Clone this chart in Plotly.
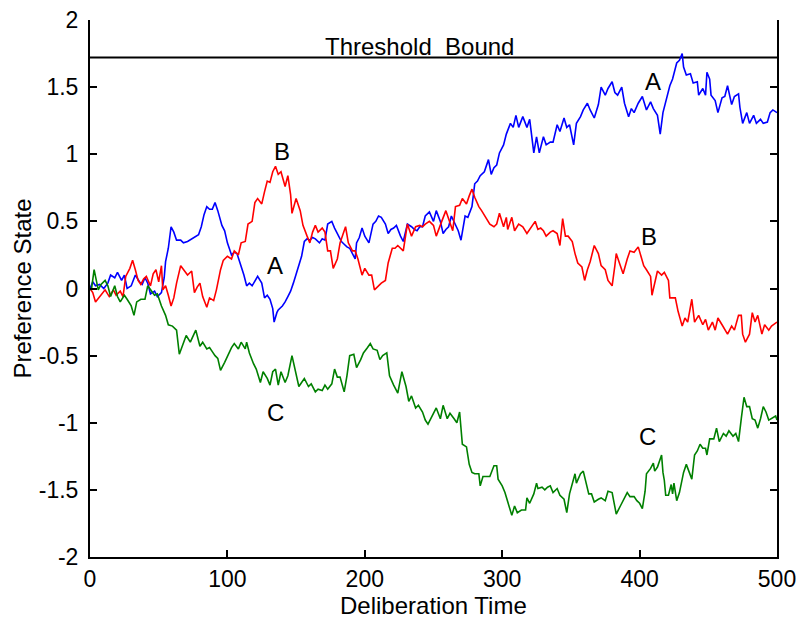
import plotly.graph_objects as go

# ---------------- data ----------------
time_a = [0,2,4,7,10,13,15,18,20,23,25,27,30,33,36,38,40,42,44,47,49,52,54,55,57,59,61,63,66,68,71,74,77,79,81,83,85,87,89,91,93,96,98,100,103,105,107,110,112,114,116,118,120,122,125,127,129,131,133,134,136,137,140,142,144,146,148,151,154,156,158,160,162,164,167,169,171,173,176,178,180,183,185,187,189,191,193,194,196,198,200,203,206,208,210,212,215,217,219,221,223,226,228,231,234,236,238,240,242,244,247,250,252,255,257,259,261,263,266,268,270,273,275,278,280,282,284,287,290,292,294,296,298,301,303,306,308,310,312,315,318,320,323,325,327,330,332,335,337,340,342,345,347,349,352,354,357,359,362,364,367,370,372,375,377,380,382,384,387,389,392,394,396,399,402,405,408,410,413,415,417,420,422,424,427,429,431,432,434,437,439,442,443,446,448,449,451,452,455,457,460,462,464,467,469,472,473,475,478,480,483,485,488,490,493,495,497,500]
pref_a = [0.0,0.05,0.02,0.03,0.0,0.04,0.1,0.08,0.12,0.06,0.1,0.0,0.02,0.1,0.05,0.03,0.08,0.04,-0.04,-0.02,-0.06,-0.03,0.08,0.2,0.3,0.46,0.42,0.36,0.36,0.34,0.35,0.37,0.39,0.4,0.46,0.55,0.61,0.59,0.59,0.64,0.58,0.47,0.43,0.34,0.25,0.27,0.26,0.17,0.1,0.02,0.04,0.02,0.06,0.09,0.04,-0.07,-0.05,-0.08,-0.15,-0.25,-0.18,-0.16,-0.13,-0.1,-0.06,-0.02,0.04,0.14,0.24,0.35,0.37,0.36,0.38,0.37,0.34,0.37,0.36,0.48,0.5,0.45,0.41,0.35,0.33,0.31,0.3,0.26,0.22,0.34,0.38,0.45,0.39,0.34,0.48,0.5,0.54,0.53,0.48,0.41,0.44,0.45,0.47,0.39,0.35,0.48,0.46,0.44,0.43,0.46,0.46,0.54,0.57,0.5,0.58,0.5,0.41,0.44,0.46,0.54,0.48,0.43,0.36,0.54,0.53,0.61,0.78,0.8,0.84,0.87,0.96,0.85,0.9,0.92,1.01,1.07,1.15,1.23,1.2,1.29,1.2,1.28,1.2,1.26,1.01,1.13,1.01,1.13,1.07,1.09,1.09,1.22,1.17,1.27,1.2,1.22,1.07,1.23,1.28,1.33,1.38,1.33,1.27,1.37,1.5,1.44,1.49,1.54,1.46,1.44,1.5,1.38,1.28,1.34,1.31,1.38,1.43,1.33,1.39,1.34,1.29,1.15,1.31,1.44,1.51,1.56,1.68,1.7,1.75,1.65,1.59,1.6,1.53,1.54,1.44,1.49,1.44,1.61,1.56,1.44,1.4,1.31,1.42,1.43,1.51,1.37,1.43,1.45,1.35,1.23,1.31,1.23,1.29,1.23,1.26,1.23,1.24,1.31,1.33,1.31]

time_b = [0,2,4,7,9,11,14,17,19,22,24,26,29,31,33,35,37,39,41,44,46,48,50,52,53,55,57,59,61,63,66,69,71,74,76,78,80,82,85,87,90,92,95,97,100,103,105,108,110,113,115,118,120,122,125,127,129,131,133,135,137,139,142,144,146,147,150,153,155,158,160,162,164,166,169,171,173,175,177,180,182,184,186,188,191,193,195,198,200,203,205,207,210,212,215,217,220,222,224,226,228,231,234,237,240,242,244,247,250,252,254,256,259,262,264,266,269,271,274,276,278,280,283,285,288,291,294,296,298,301,303,304,307,309,312,315,318,320,322,324,326,328,330,332,335,337,340,342,344,346,348,351,353,355,358,360,362,364,367,370,372,375,377,380,382,383,386,388,391,393,396,399,401,403,405,408,409,411,413,416,418,421,422,426,428,431,433,435,438,440,443,446,448,450,453,455,457,460,462,464,467,469,472,474,475,477,480,482,484,486,489,491,494,496,500]
pref_b = [0.0,-0.03,-0.1,-0.06,-0.03,-0.01,-0.06,-0.01,-0.05,-0.02,-0.06,0.09,0.15,0.21,0.14,0.06,0.03,0.07,0.09,0.02,0.11,0.14,0.05,0.17,-0.01,0.02,-0.05,-0.13,-0.07,0.04,0.17,0.13,0.1,0.13,-0.03,0.01,0.04,-0.06,-0.14,-0.07,-0.09,-0.01,0.14,0.21,0.24,0.22,0.28,0.25,0.34,0.35,0.48,0.5,0.64,0.67,0.63,0.72,0.8,0.79,0.87,0.91,0.85,0.87,0.76,0.84,0.7,0.56,0.67,0.58,0.47,0.39,0.34,0.42,0.47,0.42,0.45,0.42,0.28,0.28,0.15,0.22,0.34,0.4,0.46,0.34,0.28,0.28,0.22,0.1,0.15,0.1,0.1,-0.01,0.02,0.04,0.06,0.19,0.3,0.3,0.32,0.3,0.28,0.48,0.39,0.46,0.47,0.46,0.48,0.5,0.47,0.39,0.45,0.5,0.58,0.48,0.43,0.61,0.62,0.67,0.63,0.69,0.74,0.68,0.61,0.58,0.53,0.48,0.46,0.48,0.56,0.46,0.53,0.44,0.53,0.43,0.48,0.46,0.41,0.44,0.47,0.5,0.44,0.45,0.43,0.39,0.42,0.43,0.41,0.32,0.52,0.39,0.39,0.35,0.26,0.19,0.16,0.06,0.14,0.2,0.32,0.26,0.17,0.14,0.06,0.02,0.17,0.26,0.17,0.11,0.22,0.28,0.27,0.31,0.24,0.17,0.14,0.09,-0.05,0.04,0.13,0.1,0.12,0.06,-0.07,-0.07,-0.17,-0.28,-0.22,-0.25,-0.08,-0.25,-0.2,-0.27,-0.23,-0.31,-0.25,-0.31,-0.22,-0.27,-0.31,-0.34,-0.28,-0.31,-0.2,-0.2,-0.34,-0.4,-0.34,-0.18,-0.25,-0.2,-0.34,-0.27,-0.31,-0.28,-0.25]

time_c = [0,1,3,4,6,8,11,13,15,18,20,22,25,27,30,32,34,37,40,42,44,47,49,52,55,57,60,63,65,68,70,73,75,77,80,82,85,87,89,91,93,95,98,101,103,105,108,110,113,114,116,119,121,124,126,129,131,133,135,137,139,142,144,147,149,152,154,156,159,161,164,166,169,171,173,176,178,180,182,185,187,189,192,194,197,199,202,204,206,209,211,213,216,218,221,224,227,230,232,234,237,239,242,244,246,249,251,252,255,257,260,262,265,267,269,271,274,276,278,280,283,284,286,289,291,294,296,297,300,302,304,307,309,311,314,317,318,320,323,325,326,329,331,333,335,337,340,342,345,347,349,351,353,354,357,359,361,363,365,367,370,372,375,377,380,382,383,386,388,391,393,396,398,400,402,404,405,408,410,411,413,415,416,417,418,419,421,423,424,425,427,429,430,432,434,436,438,440,442,444,446,448,449,451,454,456,458,461,463,465,468,470,472,474,476,478,480,482,484,486,488,490,492,494,496,499,500]
pref_c = [0.0,-0.01,0.14,0.09,-0.01,0.03,0.06,0.02,-0.06,0.02,-0.06,-0.1,-0.05,-0.08,-0.13,-0.2,-0.1,-0.08,-0.08,0.02,-0.01,-0.05,-0.04,-0.13,-0.2,-0.27,-0.28,-0.31,-0.49,-0.4,-0.35,-0.4,-0.35,-0.31,-0.43,-0.4,-0.45,-0.44,-0.47,-0.5,-0.52,-0.61,-0.55,-0.48,-0.44,-0.41,-0.45,-0.4,-0.45,-0.4,-0.48,-0.56,-0.6,-0.7,-0.62,-0.67,-0.72,-0.62,-0.6,-0.72,-0.62,-0.7,-0.65,-0.5,-0.6,-0.73,-0.7,-0.67,-0.73,-0.71,-0.77,-0.75,-0.76,-0.72,-0.75,-0.71,-0.6,-0.66,-0.66,-0.77,-0.65,-0.5,-0.49,-0.59,-0.53,-0.48,-0.44,-0.41,-0.45,-0.46,-0.53,-0.5,-0.48,-0.65,-0.72,-0.78,-0.62,-0.73,-0.84,-0.8,-0.89,-0.87,-0.92,-0.98,-1.01,-0.95,-0.9,-0.89,-0.97,-0.87,-0.97,-0.93,-0.97,-1.0,-0.92,-1.16,-1.18,-1.31,-1.37,-1.38,-1.38,-1.47,-1.4,-1.4,-1.4,-1.32,-1.32,-1.42,-1.47,-1.52,-1.59,-1.69,-1.62,-1.67,-1.65,-1.65,-1.56,-1.6,-1.53,-1.45,-1.49,-1.48,-1.5,-1.48,-1.47,-1.52,-1.49,-1.54,-1.57,-1.67,-1.53,-1.45,-1.38,-1.45,-1.38,-1.36,-1.45,-1.53,-1.53,-1.59,-1.57,-1.56,-1.58,-1.51,-1.52,-1.62,-1.68,-1.62,-1.58,-1.52,-1.55,-1.55,-1.58,-1.6,-1.64,-1.51,-1.38,-1.34,-1.3,-1.36,-1.33,-1.27,-1.24,-1.37,-1.43,-1.54,-1.54,-1.46,-1.53,-1.45,-1.58,-1.52,-1.47,-1.37,-1.31,-1.36,-1.42,-1.24,-1.21,-1.16,-1.19,-1.19,-1.24,-1.12,-1.12,-1.04,-1.14,-1.08,-1.1,-1.06,-1.1,-1.08,-1.14,-0.97,-0.81,-0.88,-0.88,-0.97,-0.98,-1.04,-0.97,-0.88,-0.92,-0.98,-0.97,-0.95,-0.98]

threshold = 1.72
time_range = [0, 500]

x_ticks = [0, 100, 200, 300, 400, 500]
x_tick_labels = ["0", "100", "200", "300", "400", "500"]
y_ticks = [-2, -1.5, -1, -0.5, 0, 0.5, 1, 1.5, 2]
y_tick_labels = ["-2", "-1.5", "-1", "-0.5", "0", "0.5", "1", "1.5", "2"]

# label annotations: (text, time, preference)
label_text = ["B", "A", "C", "A", "B", "C", "Threshold  Bound"]
label_time = [140, 135, 135, 410, 407, 406, 240]
label_pref = [1.02, 0.17, -0.92, 1.54, 0.39, -1.10, 1.80]

# ---------------- figure ----------------
FONT = "Liberation Sans, Arial, Helvetica, sans-serif"
FS = 24
TICK_FS = 23

fig = go.Figure()
fig.add_trace(go.Scatter(x=time_range, y=[threshold, threshold], mode="lines",
                         line=dict(color="black", width=2), showlegend=False, hoverinfo="skip"))
fig.add_trace(go.Scatter(x=time_a, y=pref_a, mode="lines", line=dict(color="#0000ff", width=1.6), name="A", showlegend=False))
fig.add_trace(go.Scatter(x=time_b, y=pref_b, mode="lines", line=dict(color="#ff0000", width=1.6), name="B", showlegend=False))
fig.add_trace(go.Scatter(x=time_c, y=pref_c, mode="lines", line=dict(color="#008000", width=1.6), name="C", showlegend=False))

for txt, tx, ty in zip(label_text, label_time, label_pref):
    fig.add_annotation(x=tx, y=ty, text=txt, showarrow=False,
                       xanchor="center", yanchor="middle",
                       font=dict(family=FONT, size=FS, color="black"))

fig.add_annotation(xref="paper", yref="paper", x=0.5, y=0, yshift=-48,
                   xanchor="center", yanchor="middle", text="Deliberation Time",
                   showarrow=False, font=dict(family=FONT, size=FS, color="black"))
fig.add_annotation(xref="paper", yref="paper", x=0, y=0.5, xshift=-68,
                   xanchor="center", yanchor="middle", text="Preference State",
                   textangle=-90, showarrow=False, font=dict(family=FONT, size=FS, color="black"))

# the page adds an 8 px body margin; margins compensate so the plot area lands near x 90-777, y 20-557
fig.update_layout(
    width=804, height=618,
    margin=dict(l=82, r=35, t=12, b=69, autoexpand=False),
    paper_bgcolor="white", plot_bgcolor="white",
    font=dict(family=FONT, size=FS, color="black"),
)
fig.update_xaxes(range=[0, 500], tickvals=x_ticks, ticktext=x_tick_labels,
                 ticks="inside", ticklen=7, tickwidth=1.5, tickcolor="black",
                 showline=True, linewidth=2, linecolor="black", mirror=False,
                 showgrid=False, zeroline=False, tickfont=dict(family=FONT, size=TICK_FS),
                 automargin=False, ticklabeloverflow="allow")
fig.update_yaxes(range=[-2, 2], tickvals=y_ticks, ticktext=y_tick_labels,
                 ticks="inside", ticklen=7, tickwidth=1.5, tickcolor="black",
                 showline=True, linewidth=2, linecolor="black", mirror="ticks",
                 showgrid=False, zeroline=False, tickfont=dict(family=FONT, size=TICK_FS),
                 ticklabelstandoff=5, automargin=False, ticklabeloverflow="allow")

fig.write_html("out.html")
